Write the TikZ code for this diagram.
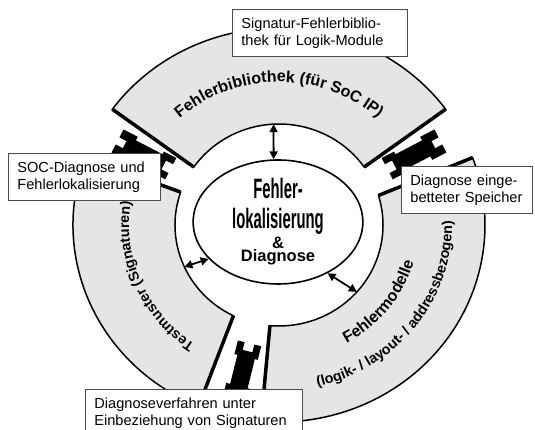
\documentclass[tikz,border=0pt]{standalone}
\usepackage{fontspec}
\setmainfont{Liberation Sans}
\newfontfamily\condfont[FakeStretch=0.53]{Liberation Sans}
\usetikzlibrary{shapes.geometric, decorations.text, arrows.meta}

\newcommand\arcfont{\fontsize{16}{18}\selectfont\bfseries}
\newcommand\arcsmall{\fontsize{14.3}{16}\selectfont\bfseries}

\begin{document}
\begin{tikzpicture}[
  x=1pt, y=1pt,
  infobox/.style={draw=black!70, line width=0.8pt, fill=white, anchor=north west, align=left, minimum height=47pt, inner xsep=9pt, font=\fontsize{14.6}{16.7}\selectfont},
  ring/.style={fill=black!10, draw, line width=1.5pt},
  ringend/.style={line width=3.5pt},
  plug/.style={fill=black},
  core/.style={draw, ellipse, line width=1.6pt, fill=white, minimum width=130pt, minimum height=124pt, inner sep=0pt, text width=120pt, align=center},
  link/.style={line width=1.8pt, {Triangle[length=8pt,width=8pt]}-{Triangle[length=8pt,width=8pt]}},
  ringtext/.style={decorate, decoration={text along path, text align=center, text={#1}}}
]
\useasboundingbox (0,0) rectangle (535,430);
\coordinate (C) at (279,205);

\begin{scope}[shift={(C)}]
  \path[ring] (36:206 and 197) arc[start angle=36, end angle=144, x radius=206, y radius=197]
    -- (145:104 and 101) arc[start angle=145, end angle=35, x radius=104, y radius=101] -- cycle;
  \path[ring] (160:206 and 197) arc[start angle=160, end angle=247, x radius=206, y radius=197]
    -- (244:104 and 101) arc[start angle=244, end angle=161, x radius=104, y radius=101] -- cycle;
  \path[ring] (-95:206 and 197) arc[start angle=-95, end angle=20, x radius=206, y radius=197]
    -- (17:104 and 101) arc[start angle=17, end angle=-95, x radius=104, y radius=101] -- cycle;

  \draw[ringend] (35:104 and 101) -- (36:206 and 197);
  \draw[ringend] (145:104 and 101) -- (144:206 and 197);
  \draw[ringend] (161:104 and 101) -- (160:206 and 197);
  \draw[ringend] (244:104 and 101) -- (247:206 and 197);
  \draw[ringend] (-95:104 and 101) -- (-95:206 and 197);
  \draw[ringend] (17:104 and 101) -- (20:206 and 197);

  \foreach \a in {152.5, 27.5, -104} {
    \begin{scope}[rotate=\a]
      \fill[plug] (122,-12) -- ++(14,0) -- ++(0,3) -- ++(30,0) -- ++(0,-4) -- ++(16,0) -- ++(0,9)
        -- ++(-8,0) -- ++(0,8) -- ++(8,0) -- ++(0,9) -- ++(-16,0) -- ++(0,-4) -- ++(-30,0)
        -- ++(0,3) -- ++(-14,0) -- ++(0,-7) -- ++(8,0) -- ++(0,-10) -- ++(-8,0) -- cycle;
    \end{scope}
  }

  \path[ringtext={|\arcfont|Fehlerbibliothek (für SoC IP)}]
    (150:149 and 143) arc[start angle=150, end angle=30, x radius=149, y radius=143];
  \path[ringtext={|\arcsmall|Testmuster (Signaturen)}]
    (262:150 and 144) arc[start angle=262, end angle=144, x radius=150, y radius=144];
  \path[ringtext={|\arcfont|Fehlermodelle}]
    (-90:140 and 135) arc[start angle=-90, end angle=14, x radius=140, y radius=135];
  \path[ringtext={|\arcsmall|(logik- / layout- / addressbezogen)}]
    (-95:173 and 166) arc[start angle=-95, end angle=20, x radius=173, y radius=166];

  \coordinate (tin) at (93:104 and 101);
  \coordinate (lin) at (204.5:104 and 101);
  \coordinate (rin) at (-41.5:104 and 101);
\end{scope}

\node[core] (core) at (278,208) {\condfont\bfseries\fontsize{28}{30}\selectfont Fehler-\par lokalisierung\par
  \normalfont\bfseries\fontsize{16.5}{20}\selectfont \&\par \fontsize{16.5}{17}\selectfont Diagnose};

\draw[link] (core.94) -- (tin);
\draw[link] (core.208) -- (lin);
\draw[link] (core.-46) -- (rin);

\node[infobox, text width=157pt] (siglib) at (232,421) {Signatur-Fehlerbiblio-\\thek für Logik-Module};
\node[infobox, text width=134pt] (socdiag) at (8,277) {SOC-Diagnose und\\Fehlerlokalisierung};
\node[infobox, text width=113pt] (memdiag) at (401,264) {Diagnose einge-\\betteter Speicher};
\node[infobox, text width=199pt] (sigdiag) at (85,41) {Diagnoseverfahren unter\\Einbeziehung von Signaturen};
\end{tikzpicture}
\end{document}
